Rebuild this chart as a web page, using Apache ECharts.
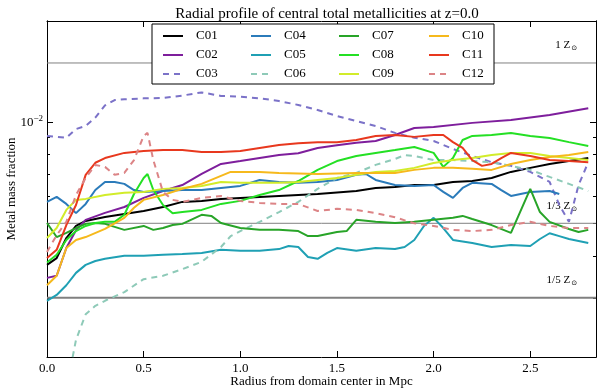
<!DOCTYPE html>
<html>
<head>
<meta charset="utf-8">
<script src="https://cdn.jsdelivr.net/npm/echarts@6/dist/echarts.min.js"></script>
<style>
html, body { margin: 0; padding: 0; background: #fff; }
#chart { width: 600px; height: 389px; }
</style>
</head>
<body>
<div id="chart"></div>
<script>
// radius (Mpc) vs central metal mass fraction, one array per run
const c01 = [[0,0.00376],[0.05,0.00394],[0.1,0.00452],[0.15,0.00491],[0.2,0.00508],[0.25,0.00515],[0.3,0.00522],[0.4,0.00533],[0.5,0.00544],[0.6,0.00559],[0.7,0.00579],[0.8,0.00583],[0.9,0.00591],[1.0,0.00595],[1.2,0.00603],[1.4,0.00611],[1.6,0.00624],[1.7,0.00637],[1.8,0.00641],[1.9,0.0065],[2.0,0.0065],[2.1,0.00664],[2.2,0.00668],[2.3,0.00682],[2.4,0.00711],[2.5,0.00731],[2.6,0.00751],[2.7,0.00766],[2.8,0.00782]]
const c02 = [[0,0.00344],[0.05,0.00349],[0.1,0.00422],[0.15,0.00477],[0.2,0.00512],[0.3,0.00537],[0.4,0.00559],[0.5,0.00595],[0.6,0.00624],[0.7,0.0065],[0.8,0.00701],[0.9,0.00751],[1.0,0.00766],[1.1,0.00782],[1.2,0.00798],[1.3,0.00808],[1.4,0.00838],[1.5,0.00853],[1.6,0.00868],[1.7,0.00879],[1.8,0.00916],[1.9,0.00961],[2.0,0.00967],[2.2,0.00995],[2.4,0.01015],[2.6,0.0105],[2.8,0.011]]
const c03 = [[0,0.0091],[0.1,0.00899],[0.15,0.00954],[0.2,0.00974],[0.25,0.01032],[0.3,0.01121],[0.35,0.01163],[0.4,0.0117],[0.5,0.01177],[0.6,0.0118],[0.7,0.012],[0.8,0.01226],[0.9,0.01197],[1.0,0.0119],[1.1,0.01177],[1.2,0.01156],[1.3,0.01125],[1.4,0.01087],[1.5,0.01043],[1.6,0.01008],[1.7,0.00974],[1.8,0.00929],[1.9,0.00899],[2.0,0.00879],[2.1,0.00832],[2.2,0.00793],[2.3,0.0076],[2.4,0.00741],[2.5,0.00711],[2.6,0.00664],[2.65,0.00567],[2.7,0.00505],[2.75,0.0065],[2.8,0.0076]]
const c04 = [[0,0.00579],[0.05,0.00599],[0.1,0.00571],[0.15,0.00536],[0.2,0.00571],[0.25,0.00628],[0.3,0.00664],[0.35,0.00664],[0.4,0.00655],[0.45,0.00628],[0.5,0.0062],[0.6,0.00624],[0.7,0.00628],[0.8,0.00628],[0.9,0.00637],[1.0,0.00646],[1.1,0.00673],[1.2,0.00664],[1.3,0.0066],[1.4,0.00664],[1.5,0.00673],[1.6,0.00697],[1.65,0.00701],[1.7,0.00673],[1.8,0.0065],[1.9,0.00646],[2.0,0.0065],[2.05,0.0062],[2.1,0.00595],[2.15,0.00637],[2.2,0.0066],[2.3,0.00655],[2.35,0.00628],[2.4,0.00603],[2.5,0.0062],[2.6,0.00624],[2.65,0.00611]]
const c05 = [[0,0.00294],[0.05,0.00306],[0.1,0.00327],[0.15,0.00356],[0.2,0.00376],[0.25,0.00386],[0.3,0.00392],[0.4,0.004],[0.5,0.004],[0.6,0.00403],[0.7,0.00405],[0.8,0.00408],[0.9,0.00417],[1.0,0.00414],[1.1,0.00414],[1.2,0.00419],[1.25,0.00428],[1.3,0.00425],[1.35,0.00397],[1.4,0.00392],[1.45,0.00408],[1.5,0.00422],[1.6,0.00414],[1.7,0.00422],[1.8,0.00419],[1.85,0.00425],[1.9,0.00446],[1.95,0.00491],[2.0,0.00519],[2.05,0.00484],[2.1,0.00446],[2.2,0.00437],[2.3,0.00425],[2.35,0.00428],[2.4,0.00431],[2.5,0.00428],[2.55,0.00449],[2.6,0.00467],[2.65,0.00458],[2.7,0.00449],[2.8,0.00437]]
const c06 = [[0.1,0.0016],[0.15,0.00225],[0.2,0.00268],[0.25,0.00284],[0.3,0.00294],[0.4,0.00312],[0.5,0.00341],[0.6,0.00349],[0.7,0.00365],[0.8,0.00384],[0.9,0.00425],[0.95,0.00458],[1.0,0.00474],[1.1,0.00505],[1.2,0.0054],[1.3,0.00579],[1.4,0.00633],[1.5,0.00682],[1.6,0.00706],[1.7,0.00746],[1.8,0.00777],[1.85,0.00798],[1.9,0.00793],[2.0,0.00771],[2.1,0.00771],[2.2,0.00766],[2.3,0.0076],[2.4,0.00741],[2.5,0.00721],[2.6,0.00687],[2.7,0.00655],[2.8,0.00624]]
const c07 = [[0,0.00501],[0.05,0.00455],[0.1,0.00468],[0.15,0.00484],[0.2,0.00498],[0.25,0.00501],[0.3,0.00498],[0.4,0.00478],[0.5,0.00491],[0.55,0.00478],[0.6,0.00484],[0.65,0.00494],[0.7,0.00498],[0.8,0.0053],[0.85,0.00526],[0.9,0.00501],[1.0,0.00484],[1.1,0.00478],[1.2,0.00478],[1.3,0.00474],[1.35,0.00458],[1.4,0.00458],[1.5,0.00471],[1.55,0.00474],[1.6,0.00512],[1.7,0.00505],[1.8,0.00501],[1.9,0.00505],[2.0,0.00512],[2.1,0.00519],[2.15,0.00526],[2.2,0.00515],[2.3,0.00494],[2.4,0.00468],[2.5,0.00633],[2.55,0.0054],[2.6,0.00505],[2.7,0.00481],[2.75,0.00471],[2.8,0.00478]]
const c08 = [[0,0.00382],[0.05,0.00403],[0.1,0.00446],[0.15,0.00474],[0.2,0.00491],[0.25,0.00501],[0.3,0.00505],[0.35,0.00505],[0.4,0.0053],[0.45,0.00611],[0.5,0.00682],[0.52,0.00701],[0.55,0.00628],[0.6,0.00567],[0.65,0.00536],[0.7,0.0054],[0.8,0.00548],[0.9,0.00571],[1.0,0.00583],[1.1,0.00607],[1.2,0.00628],[1.3,0.00668],[1.4,0.00721],[1.5,0.00766],[1.6,0.00793],[1.7,0.0081],[1.8,0.00826],[1.9,0.00843],[2.0,0.0081],[2.05,0.00736],[2.1,0.00782],[2.15,0.00885],[2.2,0.0091],[2.3,0.00916],[2.4,0.00929],[2.5,0.0091],[2.6,0.00897],[2.7,0.00872],[2.8,0.00849]]
const c09 = [[0,0.00452],[0.05,0.00484],[0.1,0.00548],[0.15,0.00587],[0.2,0.00591],[0.3,0.00607],[0.4,0.00616],[0.5,0.0062],[0.6,0.00633],[0.7,0.00637],[0.8,0.00646],[0.9,0.00664],[1.0,0.0066],[1.1,0.0066],[1.2,0.0066],[1.3,0.00664],[1.4,0.00673],[1.5,0.00682],[1.6,0.00697],[1.7,0.00711],[1.8,0.00716],[1.9,0.00731],[2.0,0.00756],[2.1,0.00771],[2.2,0.00782],[2.3,0.00798],[2.4,0.0081],[2.5,0.0081],[2.6,0.00793],[2.7,0.00782],[2.8,0.00771]]
const c10 = [[0,0.00327],[0.05,0.00349],[0.1,0.00422],[0.15,0.00446],[0.2,0.00455],[0.3,0.00481],[0.4,0.00519],[0.45,0.00556],[0.5,0.00587],[0.6,0.00607],[0.7,0.00633],[0.8,0.00655],[0.9,0.00692],[0.95,0.00711],[1.0,0.00711],[1.1,0.00711],[1.2,0.00706],[1.4,0.00701],[1.6,0.00706],[1.8,0.00706],[1.9,0.00721],[2.0,0.00731],[2.1,0.00731],[2.2,0.00726],[2.3,0.00721],[2.4,0.00751],[2.5,0.00771],[2.6,0.00787],[2.7,0.00798],[2.8,0.00815]]
const c11 = [[0,0.00394],[0.05,0.00417],[0.1,0.00494],[0.15,0.00567],[0.2,0.00697],[0.25,0.00757],[0.3,0.00782],[0.4,0.0081],[0.5,0.00821],[0.6,0.00826],[0.7,0.00826],[0.8,0.00815],[0.9,0.00815],[1.0,0.00821],[1.1,0.00838],[1.2,0.00855],[1.3,0.00866],[1.4,0.00872],[1.5,0.00872],[1.6,0.00885],[1.7,0.0091],[1.8,0.00916],[1.9,0.00904],[2.0,0.00916],[2.05,0.00916],[2.1,0.00872],[2.15,0.00838],[2.2,0.00771],[2.25,0.00741],[2.3,0.00751],[2.35,0.00782],[2.4,0.0081],[2.5,0.00793],[2.6,0.00771],[2.7,0.00766],[2.8,0.0076]]
const c12 = [[0,0.00411],[0.05,0.00461],[0.1,0.00505],[0.15,0.00607],[0.2,0.00682],[0.25,0.00746],[0.3,0.00736],[0.35,0.00697],[0.4,0.00706],[0.45,0.00771],[0.5,0.0091],[0.52,0.00929],[0.55,0.00771],[0.6,0.0062],[0.65,0.00587],[0.7,0.00579],[0.8,0.00595],[0.9,0.00603],[1.0,0.00583],[1.1,0.00575],[1.2,0.00571],[1.3,0.00571],[1.4,0.00544],[1.5,0.00552],[1.6,0.00548],[1.7,0.00536],[1.8,0.00521],[1.9,0.005],[2.0,0.00491],[2.1,0.00478],[2.2,0.00474],[2.3,0.00478],[2.4,0.00494],[2.5,0.00505],[2.6,0.00491],[2.7,0.00484],[2.8,0.00484]]

// solar metallicity reference levels, drawn across the whole radius range
const solarLevels = [0.015, 0.005, 0.003]
const solarNames = ['1 Z', '1/3 Z', '1/5 Z']
const radiusRange = [0, 2.84]

const xTicks = [0, 0.5, 1, 1.5, 2, 2.5]
const yMajor = [0.01]
const yMinor = [0.003, 0.004, 0.005, 0.006, 0.007, 0.008, 0.009]

const runs = [
  { name: 'C01', data: c01, color: '#000000', dash: false },
  { name: 'C02', data: c02, color: '#7e1e9c', dash: false },
  { name: 'C03', data: c03, color: '#7b72c8', dash: true },
  { name: 'C04', data: c04, color: '#2b7bba', dash: false },
  { name: 'C05', data: c05, color: '#1fa0b4', dash: false },
  { name: 'C06', data: c06, color: '#8ecab8', dash: true },
  { name: 'C07', data: c07, color: '#28a428', dash: false },
  { name: 'C08', data: c08, color: '#24e024', dash: false },
  { name: 'C09', data: c09, color: '#d2ec2a', dash: false },
  { name: 'C10', data: c10, color: '#f6b91c', dash: false },
  { name: 'C11', data: c11, color: '#e8381e', dash: false },
  { name: 'C12', data: c12, color: '#dc8486', dash: true }
]

const serif = 'Liberation Serif'
const black = '#000'

const legendCommon = {
  orient: 'vertical',
  top: 29,
  itemWidth: 20,
  itemHeight: 14,
  itemGap: 5,
  itemStyle: { opacity: 0 },
  textStyle: { fontFamily: serif, fontSize: 13, color: black, lineHeight: 14, width: 30, padding: [0, 0, 0, 8] }
}

const logAxis = (position, ticks, len, extra) => Object.assign({
  type: 'log',
  logBase: 10,
  min: 0.002,
  max: 0.02,
  position: position,
  offset: 0,
  axisLine: { show: true, lineStyle: { color: black, width: 1 } },
  axisTick: { show: true, inside: true, length: len, customValues: ticks, lineStyle: { color: black } },
  axisLabel: { show: false },
  splitLine: { show: false }
}, extra || {})

const chart = echarts.init(document.getElementById('chart'))

const refSeries = solarLevels.map((v, i) => ({
  name: 'ref' + i,
  type: 'line',
  data: radiusRange.map(x => [x, v]),
  symbol: 'none',
  silent: true,
  z: 1,
  lineStyle: { color: '#808080', width: i === 2 ? 2 : 1 },
  endLabel: {
    show: true,
    formatter: solarNames[i] + '{s|⊙}',
    align: 'right',
    verticalAlign: 'bottom',
    distance: 0,
    offset: [-19, -11],
    fontFamily: serif, fontSize: 11, color: black,
    rich: { s: { fontFamily: 'DejaVu Sans', fontSize: 7, color: black, padding: [6, 0, 0, 1] } }
  }
}))

chart.setOption({
  animation: false,
  backgroundColor: '#fff',
  title: {
    text: 'Radial profile of central total metallicities at z=0.0',
    left: 322,
    top: 2,
    textAlign: 'center',
    textStyle: { fontFamily: serif, fontSize: 15, fontWeight: 'normal', color: black }
  },
  grid: { left: 47, right: 4, top: 21, bottom: 32, outerBoundsMode: 'none', containLabel: false },
  legend: [
    Object.assign({}, legendCommon, {
      data: ['C01', 'C02', 'C03'], left: 152, top: 24,
      padding: [5, 268, 3, 10],
      backgroundColor: '#fff', borderColor: black, borderWidth: 1
    }),
    Object.assign({}, legendCommon, { data: ['C04', 'C05', 'C06'], left: 250, padding: 0 }),
    Object.assign({}, legendCommon, { data: ['C07', 'C08', 'C09'], left: 338, padding: 0 }),
    Object.assign({}, legendCommon, { data: ['C10', 'C11', 'C12'], left: 428, padding: 0 })
  ],
  xAxis: [
    {
      type: 'value', min: 0, max: 2.84, position: 'bottom',
      name: 'Radius from domain center in Mpc',
      nameLocation: 'middle', nameGap: 18, nameMoveOverlap: false,
      nameTextStyle: { fontFamily: serif, fontSize: 13, color: black },
      axisLine: { lineStyle: { color: black, width: 1 } },
      axisTick: { inside: true, length: 6, customValues: xTicks, lineStyle: { color: black } },
      axisLabel: { customValues: xTicks, formatter: v => v.toFixed(1), margin: 5, fontFamily: serif, fontSize: 13, color: black },
      splitLine: { show: false }
    },
    {
      type: 'value', min: 0, max: 2.84, position: 'top',
      axisLine: { lineStyle: { color: black, width: 1 } },
      axisTick: { inside: true, length: 6, customValues: xTicks, lineStyle: { color: black } },
      axisLabel: { show: false },
      splitLine: { show: false }
    }
  ],
  yAxis: [
    logAxis('left', yMajor, 6, {
      name: 'Metal mass fraction',
      nameLocation: 'middle', nameGap: 29, nameMoveOverlap: false,
      nameTextStyle: { fontFamily: serif, fontSize: 13, color: black },
      axisLabel: {
        show: true, customValues: yMajor, margin: 4,
        formatter: () => '{b|10}{s|−2}',
        rich: {
          b: { fontFamily: serif, fontSize: 13, color: black },
          s: { fontFamily: serif, fontSize: 9, color: black, padding: [0, 0, 7, 0] }
        }
      }
    }),
    logAxis('left', yMinor, 3),
    logAxis('right', yMajor, 6),
    logAxis('right', yMinor, 3)
  ],
  series: refSeries.concat(runs.map(r => ({
    name: r.name,
    type: 'line',
    data: r.data,
    symbol: 'none',
    clip: true,
    color: r.color,
    lineStyle: { color: r.color, width: 2, type: r.dash ? [6, 5] : 'solid' }
  })))
})
</script>
</body>
</html>
